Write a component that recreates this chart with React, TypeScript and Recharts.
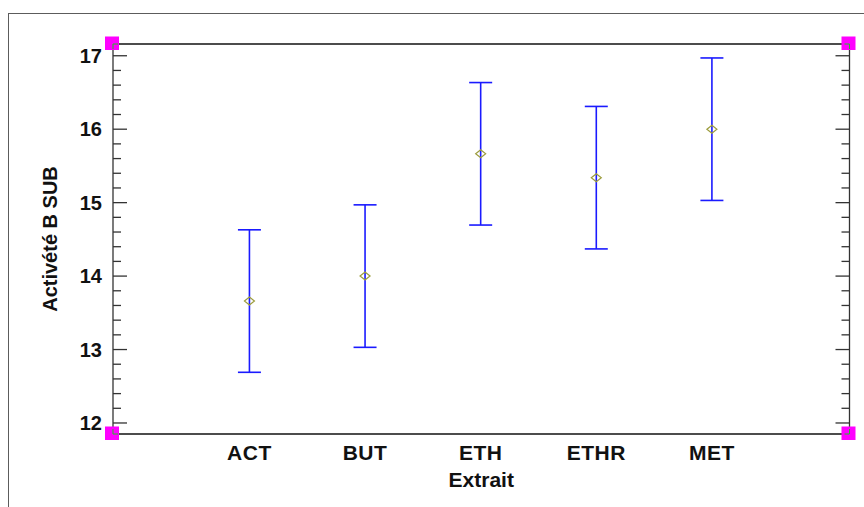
import { ComposedChart, Scatter, ErrorBar, XAxis, YAxis, ReferenceDot } from 'recharts';

// Moyennes par extrait avec leurs intervalles (demi-largeur)
const extraits = ['ACT', 'BUT', 'ETH', 'ETHR', 'MET'];
const moyennes = [13.66, 14.0, 15.665, 15.34, 16.0];
const demiIntervalles = [0.97, 0.97, 0.97, 0.97, 0.97];

const yMajorTicks = [12, 13, 14, 15, 16, 17];
const xDomain: [number, number] = [-0.18, 6.19];
const yDomain: [number, number] = [11.85, 17.16];

const FONT = '"Liberation Sans", Arial, sans-serif';

// major ticks plus 4 minor subdivisions
const yTicks = yMajorTicks.flatMap((m, i) =>
  i === yMajorTicks.length - 1 ? [m] : [0, 1, 2, 3, 4].map((k) => Math.round((m + k * 0.2) * 10) / 10)
);

const points = extraits.map((name, i) => ({
  pos: i + 1,
  name,
  moyenne: moyennes[i],
  erreur: demiIntervalles[i],
}));

function YTick(props: any) {
  const { x, y, payload, side } = props;
  const v = payload.value as number;
  const major = Math.abs(v - Math.round(v)) < 1e-6;
  const len = major ? 14 : 8;
  const dir = side === 'left' ? 1 : -1;
  return (
    <g>
      <line x1={x} y1={y} x2={x + dir * len} y2={y} stroke="#333" strokeWidth={1.3} />
      {side === 'left' && major && (
        <text
          x={x - 11}
          y={y}
          dy="0.355em"
          textAnchor="end"
          fontFamily={FONT}
          fontWeight="bold"
          fontSize={20}
          fill="#111"
        >
          {v}
        </text>
      )}
    </g>
  );
}

function XTick(props: any) {
  const { x, y, payload } = props;
  return (
    <text
      x={x}
      y={y}
      dy="0.71em"
      textAnchor="middle"
      fontFamily={FONT}
      fontWeight="bold"
      fontSize={21}
      letterSpacing={0.5}
      fill="#111"
    >
      {extraits[payload.value - 1]}
    </text>
  );
}

function Diamond(props: any) {
  const { cx, cy } = props;
  return (
    <path
      d={`M${cx - 5},${cy} L${cx},${cy - 4} L${cx + 5},${cy} L${cx},${cy + 4} Z`}
      fill="none"
      stroke="#9C9C3C"
      strokeWidth={1.2}
    />
  );
}

// selection handles on the plot corners
function makeHandle(inX: number, inY: number) {
  return (props: any) => {
    const { cx, cy } = props;
    return (
      <g>
        <rect x={cx - 8} y={cy - 7.5} width={14} height={13.5} fill="#FF00FF" />
        <path
          d={`M${cx + inX * 5},${cy} L${cx},${cy} L${cx},${cy + inY * 5}`}
          fill="none"
          stroke="#22C022"
          strokeWidth={1}
        />
      </g>
    );
  };
}

const corners = [
  { x: xDomain[0], y: yDomain[1], ix: 1, iy: 1 },
  { x: xDomain[1], y: yDomain[1], ix: -1, iy: 1 },
  { x: xDomain[0], y: yDomain[0], ix: 1, iy: -1 },
  { x: xDomain[1], y: yDomain[0], ix: -1, iy: -1 },
];

export default function App() {
  return (
    <div style={{ position: 'relative', width: 864, height: 507, overflow: 'hidden', background: '#fff' }}>
      <style>{'body{margin:0}'}</style>
      <div
        style={{
          position: 'absolute',
          left: 8,
          top: 13,
          width: 900,
          height: 600,
          borderTop: '1px solid #5c5c5c',
          borderLeft: '1px solid #5c5c5c',
        }}
      />
      <div style={{ position: 'absolute', left: 0, top: 0 }}>
        <ComposedChart width={864} height={507} data={points} margin={{ top: 0, right: 0, bottom: 0, left: 0 }}>
          <XAxis
            xAxisId="bottom"
            dataKey="pos"
            type="number"
            domain={xDomain}
            allowDataOverflow
            ticks={[1, 2, 3, 4, 5]}
            interval={0}
            height={73}
            tickSize={0}
            tickMargin={11}
            tickLine={false}
            axisLine={{ stroke: '#111', strokeWidth: 1.3 }}
            tick={(p: any) => <XTick {...p} />}
            label={{
              value: 'Extrait',
              position: 'insideTop',
              offset: 38,
              fontFamily: FONT,
              fontWeight: 'bold',
              fontSize: 21,
              fill: '#111',
            }}
          />
          <XAxis
            xAxisId="top"
            orientation="top"
            type="number"
            domain={xDomain}
            allowDataOverflow
            height={44}
            tick={false}
            tickLine={false}
            axisLine={{ stroke: '#111', strokeWidth: 1.3 }}
          />
          <YAxis
            yAxisId="left"
            type="number"
            domain={yDomain}
            allowDataOverflow
            ticks={yTicks}
            interval={0}
            width={113}
            tickSize={0}
            tickMargin={0}
            tickLine={false}
            axisLine={{ stroke: '#333', strokeWidth: 1.3 }}
            tick={(p: any) => <YTick {...p} side="left" />}
            label={{
              value: 'Activété B SUB',
              angle: -90,
              position: 'insideLeft',
              offset: 50,
              style: { textAnchor: 'middle' },
              fontFamily: FONT,
              fontWeight: 'bold',
              fontSize: 20,
              fill: '#111',
            }}
          />
          <YAxis
            yAxisId="right"
            orientation="right"
            type="number"
            domain={yDomain}
            allowDataOverflow
            ticks={yTicks}
            interval={0}
            width={14.5}
            tickSize={0}
            tickMargin={0}
            tickLine={false}
            axisLine={{ stroke: '#333', strokeWidth: 1.3 }}
            tick={(p: any) => <YTick {...p} side="right" />}
          />
          <Scatter
            xAxisId="bottom"
            yAxisId="left"
            dataKey="moyenne"
            shape={Diamond}
            isAnimationActive={false}
          >
            <ErrorBar dataKey="erreur" direction="y" width={11.5} stroke="#1a1aff" strokeWidth={1.6} />
          </Scatter>
          {corners.map((c, i) => (
            <ReferenceDot
              key={i}
              xAxisId="bottom"
              yAxisId="left"
              x={c.x}
              y={c.y}
              ifOverflow="visible"
              shape={makeHandle(c.ix, c.iy)}
            />
          ))}
        </ComposedChart>
      </div>
    </div>
  );
}
